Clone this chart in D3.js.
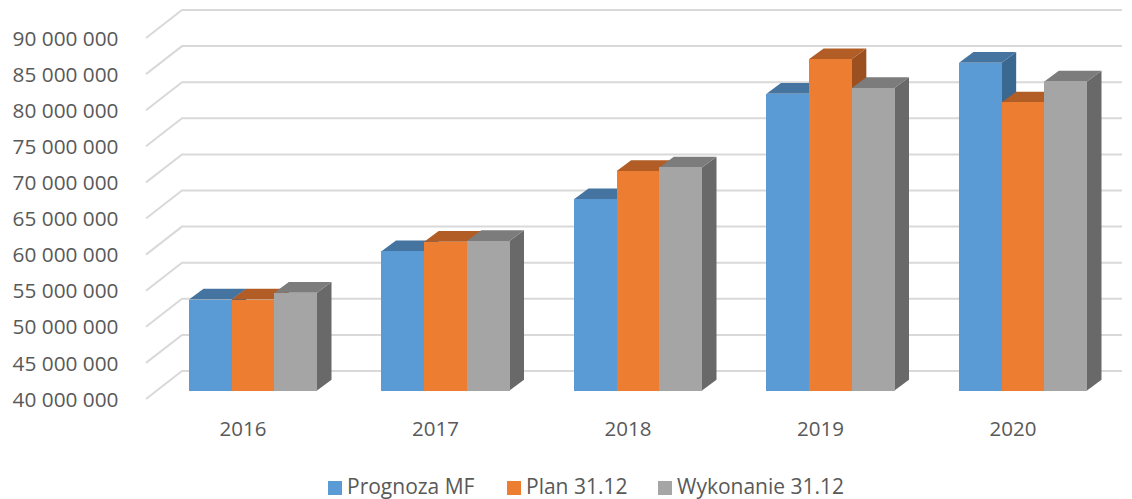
<!DOCTYPE html>
<html>
<head>
<meta charset="utf-8">
<script src="https://cdn.jsdelivr.net/npm/d3@7"></script>
<style>
  html, body { margin: 0; padding: 0; background: #fff; }
  svg { display: block; }
  text { font-family: "Open Sans", sans-serif; fill: #595959; }
</style>
</head>
<body>
<svg id="chart" width="1132" height="499"></svg>
<script>
var years = ["2016", "2017", "2018", "2019", "2020"];
var seriesNames = ["Prognoza MF", "Plan 31.12", "Wykonanie 31.12"];
var prognoza = [52600000, 59300000, 66500000, 81100000, 85400000];
var plan = [52600000, 60600000, 70400000, 85900000, 79900000];
var wykonanie = [53550000, 60700000, 70900000, 81900000, 82800000];
var yTicks = [40000000, 45000000, 50000000, 55000000, 60000000, 65000000, 70000000, 75000000, 80000000, 85000000, 90000000];

var seriesValues = [prognoza, plan, wykonanie];
var front = ["#5B9BD5", "#ED7D31", "#A5A5A5"];
var topFace = ["#44749F", "#B15D25", "#7C7C7C"];
var sideFace = ["#3A6890", "#9C5020", "#696969"];

var svg = d3.select("#chart");

// wall/axis offsets of the fake 3d box
var frontX = 146, frontY = 38;
var backX = 182, backY = 10;
var barBaseY = 390.5, plotH = 361;
var depthX = 14.5, depthY = 10.7;

var y = d3.scaleLinear().domain([40000000, 90000000]).range([plotH, 0]);
var x = d3.scaleBand().domain(years).range([0, 898]).paddingInner(0.335).paddingOuter(0);
var x1 = d3.scaleBand().domain(d3.range(3)).range([0, x.bandwidth()]);

var formatTick = function (d) {
  return d3.format(",")(d).replace(/,/g, " ");
};

// gridlines: back wall plus the slanted bit on the side wall
var grid = svg.append("g");
grid.selectAll("path").data(yTicks).enter().append("path")
  .attr("d", function (d) {
    return "M" + frontX + "," + (frontY + y(d)) +
      "L" + backX + "," + (backY + y(d)) + "L1122," + (backY + y(d));
  })
  .style("fill", "none")
  .style("stroke", "#D9D9D9")
  .style("stroke-width", 2);

var yAxis = svg.append("g")
  .attr("transform", "translate(118.5," + (frontY + 0.5) + ")")
  .call(d3.axisLeft(y).tickValues(yTicks).tickFormat(formatTick).tickSize(0).tickPadding(0));
yAxis.select(".domain").remove();
yAxis.selectAll("text").style("font-size", "20.8px").style("fill", "#595959");

// bars
var barsG = svg.append("g").attr("transform", "translate(189," + (barBaseY - plotH) + ")");
years.forEach(function (yr, i) {
  seriesValues.forEach(function (vals, s) {
    var x0 = x(yr) + x1(s);
    var w = x1.bandwidth();
    var t = y(vals[i]);
    var b = y(40000000);
    barsG.append("path")
      .attr("d", "M" + (x0 + w) + "," + t + "l" + depthX + "," + (-depthY) + "L" + (x0 + w + depthX) + "," + (b - depthY) + "L" + (x0 + w) + "," + b + "Z")
      .style("fill", sideFace[s]);
    barsG.append("path")
      .attr("d", "M" + x0 + "," + t + "l" + depthX + "," + (-depthY) + "h" + w + "l" + (-depthX) + "," + depthY + "Z")
      .style("fill", topFace[s]);
    barsG.append("rect")
      .attr("x", x0)
      .attr("y", t)
      .attr("width", w)
      .attr("height", b - t)
      .style("shape-rendering", "crispEdges")
      .style("fill", front[s]);
  });
});

// year labels, sit a bit left of the bars like the original
var xAxis = svg.append("g")
  .attr("transform", "translate(179,421)")
  .call(d3.axisBottom(x).tickSize(0).tickPadding(0));
xAxis.select(".domain").remove();
xAxis.selectAll("text").style("font-size", "20.5px").style("fill", "#595959");

// legend
var legendX = [328, 507, 658];
var legend = svg.append("g");
seriesNames.forEach(function (name, s) {
  legend.append("rect")
    .attr("x", legendX[s])
    .attr("y", 481)
    .attr("width", 14)
    .attr("height", 14)
    .style("fill", front[s]);
  legend.append("text")
    .attr("x", legendX[s] + 19)
    .attr("y", 494)
    .style("font-size", "21px")
    .text(name);
});
</script>
</body>
</html>
